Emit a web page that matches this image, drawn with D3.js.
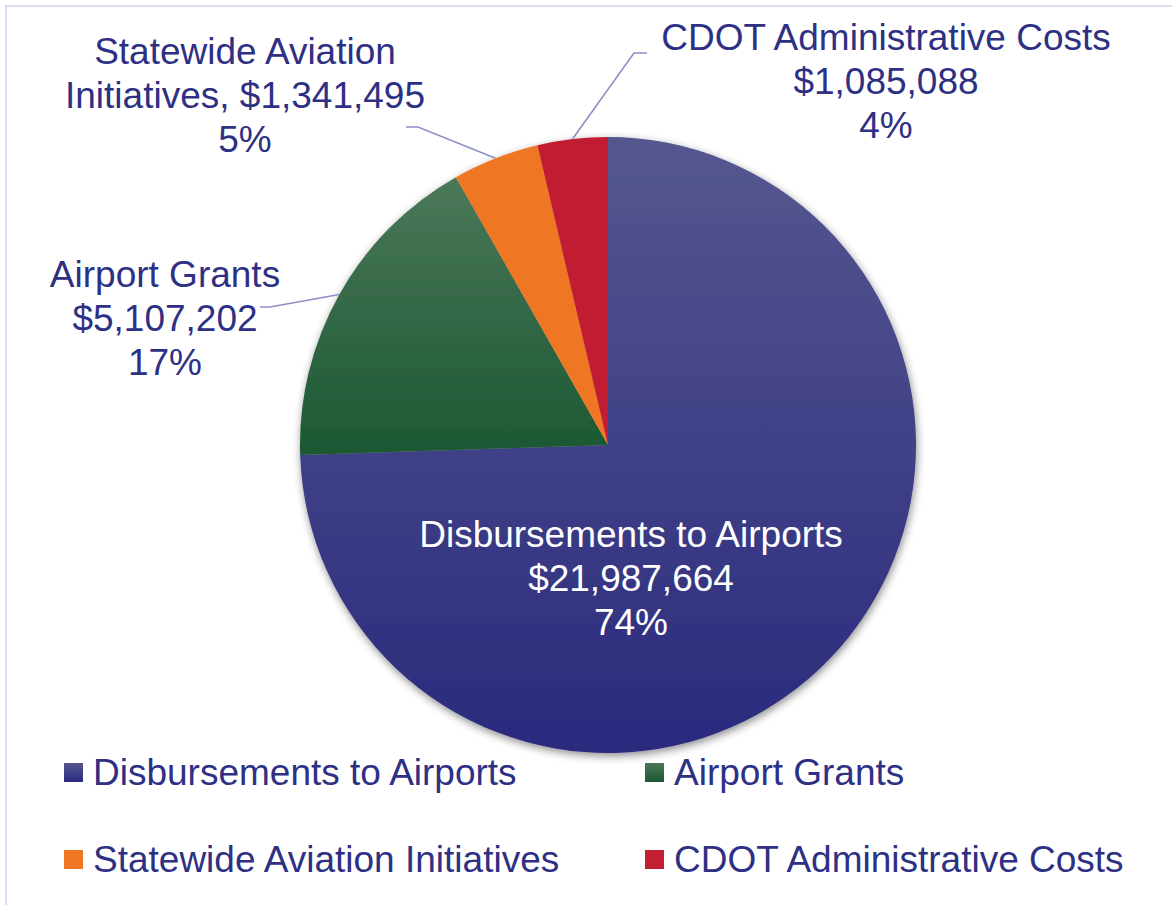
<!DOCTYPE html>
<html>
<head>
<meta charset="utf-8">
<script src="https://cdn.jsdelivr.net/npm/d3@7/dist/d3.min.js"></script>
<style>
  html, body { margin: 0; padding: 0; background: #fff; }
  svg { display: block; }
  text { font-family: "Liberation Sans", Arial, sans-serif; fill: #2e3084; }
</style>
</head>
<body>
<svg id="chart" width="1172" height="905"></svg>
<script>
// ---- data ----
const categories = ["Disbursements to Airports", "Airport Grants", "Statewide Aviation Initiatives", "CDOT Administrative Costs"];
const values = [21987664, 5107202, 1341495, 1085088];
const labelLines = [
  ["Disbursements to Airports", "$21,987,664"],
  ["Airport Grants", "$5,107,202"],
  ["Statewide Aviation", "Initiatives, $1,341,495"],
  ["CDOT Administrative Costs", "$1,085,088"]
];
const colorTop = ["#56578f", "#4b7858", "#ef7622", "#c21f32"];
const colorBottom = ["#2a2a7e", "#1b5832", "#ef7622", "#c21f32"];

// ---- layout ----
const W = 1172, H = 905;
const cx = 608, cy = 445, R = 308;
const fontSize = 37, lineH = 44;

const svg = d3.select("#chart");
const defs = svg.append("defs");

colorTop.forEach((c, i) => {
  const g = defs.append("linearGradient").attr("id", "grad" + i)
    .attr("x1", 0).attr("y1", 0).attr("x2", 0).attr("y2", 1);
  g.append("stop").attr("offset", "0%").attr("stop-color", c);
  g.append("stop").attr("offset", "100%").attr("stop-color", colorBottom[i]);
});
const f = defs.append("filter").attr("id", "shadow")
  .attr("x", "-10%").attr("y", "-10%").attr("width", "120%").attr("height", "120%");
f.append("feDropShadow").attr("dx", 1).attr("dy", 3).attr("stdDeviation", 4)
  .attr("flood-color", "#000").attr("flood-opacity", 0.45);

// border
svg.append("rect").attr("x", 6).attr("y", 6).attr("width", W + 50).attr("height", H + 50)
  .attr("fill", "none").attr("stroke", "#d9dcf2").attr("stroke-width", 2);

const total = d3.sum(values);
const pct = values.map(v => Math.round(v / total * 100) + "%");

const pie = d3.pie().sort(null).value(d => d)(values);
const arc = d3.arc().innerRadius(0).outerRadius(R);

const g = svg.append("g").attr("transform", `translate(${cx},${cy})`);
g.append("g").attr("filter", "url(#shadow)")
  .selectAll("path").data(pie).join("path")
  .attr("d", arc)
  .attr("fill", (d, i) => `url(#grad${i})`)
  .attr("stroke", "none");

// leader lines: from slice mid angle on the rim
const edge = d3.arc().innerRadius(R).outerRadius(R);
const leaders = [
  null,
  { elbow: [-338, -138], end: [-348, -138] },
  { elbow: [-190, -318], end: [-202, -318] },
  { elbow: [26, -392], end: [39, -392] }
];
pie.forEach((d, i) => {
  if (!leaders[i]) return;
  const p = edge.centroid(d);
  const L = leaders[i];
  g.append("polyline")
    .attr("points", [p, L.elbow, L.end].map(q => q.join(",")).join(" "))
    .attr("fill", "none").attr("stroke", "#8d90c6").attr("stroke-width", 1.6);
});

// labels
const labelPos = [
  [23, 102],    // inside disbursements (first baseline rel. to center)
  [-443, -158],
  [-363, -381],
  [278, -395]
];
pie.forEach((d, i) => {
  const lines = labelLines[i].concat([pct[i]]);
  const t = g.append("text").attr("text-anchor", "middle")
    .attr("font-size", fontSize)
    .style("fill", i === 0 ? "#ffffff" : "#2e3084");
  lines.forEach((s, k) => {
    t.append("tspan").attr("x", labelPos[i][0]).attr("y", labelPos[i][1] + k * lineH).text(s);
  });
});

// legend
const legX = [64, 645], legY = [773, 860];
const leg = svg.append("g");
categories.forEach((c, i) => {
  const x = legX[i % 2], y = legY[Math.floor(i / 2)];
  leg.append("rect").attr("x", x).attr("y", y - 10).attr("width", 19).attr("height", 19)
    .attr("fill", `url(#grad${i})`);
  leg.append("text").attr("x", x + 29).attr("y", y + 12)
    .attr("font-size", fontSize).text(c);
});
</script>
</body>
</html>
